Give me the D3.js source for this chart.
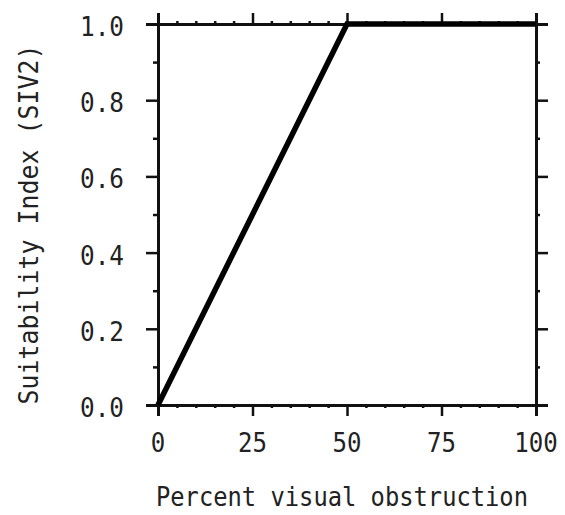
<!DOCTYPE html>
<html>
<head>
<meta charset="utf-8">
<script src="https://cdn.jsdelivr.net/npm/d3@7"></script>
<style>
  body { margin: 0; background: #fff; }
  text { font-family: "DejaVu Sans Mono", "Liberation Mono", monospace; fill: #222; }
</style>
</head>
<body>
<div id="graphic"></div>
<script>
// Data
const obstruction = [0, 50, 100];
const suitability = [0, 1, 1];
const xTicks = [0, 25, 50, 75, 100];
const yTicks = [0, 0.2, 0.4, 0.6, 0.8, 1.0];
const xLabel = "Percent visual obstruction";
const yLabel = "Suitability Index (SIV2)";

const margin = { top: 24, right: 29, bottom: 110, left: 158 };
const width = 565 - margin.left - margin.right;
const height = 515 - margin.top - margin.bottom;

const svg = d3.select("#graphic")
  .append("svg")
  .attr("width", 565)
  .attr("height", 515)
  .append("g")
  .attr("transform", `translate(${margin.left},${margin.top})`);

const x = d3.scaleLinear().domain([0, 100]).range([0, width]);
const y = d3.scaleLinear().domain([0, 1]).range([height, 0]);

// minor ticks every 5 % and every 0.1
const xMinor = d3.range(0, 101, 5).filter(v => v % 25 !== 0);
const yMinor = d3.range(1, 10, 2).map(v => v / 10);

// axis helper: major + minor ticks, no labels
function frame(g, axis, scale, majors, minors, big, small) {
  g.call(axis(scale).tickValues(majors).tickSize(big).tickFormat(""));
  g.append("g").call(axis(scale).tickValues(minors).tickSize(small).tickFormat(""))
    .select(".domain").remove();
  g.selectAll("path, line").attr("stroke", "#111").attr("stroke-width", 2.5);
  g.selectAll(".domain").attr("stroke-width", 3);
}

svg.append("g").attr("transform", `translate(0,${height})`)
  .call(g => frame(g, d3.axisBottom, x, xTicks, xMinor, 11, 3));
svg.append("g")
  .call(g => frame(g, d3.axisTop, x, xTicks, xMinor, 11, 3));
svg.append("g")
  .call(g => frame(g, d3.axisLeft, y, yTicks, yMinor, 12, 5));
svg.append("g").attr("transform", `translate(${width},0)`)
  .call(g => frame(g, d3.axisRight, y, yTicks, yMinor, 12, 4));

// tick labels
svg.append("g").selectAll("text")
  .data(xTicks)
  .join("text")
  .attr("x", d => x(d))
  .attr("y", height + 47)
  .attr("text-anchor", "middle")
  .attr("font-size", 27)
  .attr("textLength", d => String(d).length * 14.5)
  .attr("lengthAdjust", "spacingAndGlyphs")
  .text(d => d);

svg.append("g").selectAll("text")
  .data(yTicks)
  .join("text")
  .attr("x", -34)
  .attr("y", d => y(d) + 12)
  .attr("text-anchor", "end")
  .attr("font-size", 27)
  .attr("textLength", 44)
  .attr("lengthAdjust", "spacingAndGlyphs")
  .text(d => d3.format(".1f")(d));

// axis titles
svg.append("text")
  .attr("x", -2)
  .attr("y", height + 101)
  .attr("font-size", 26)
  .attr("textLength", 372)
  .attr("lengthAdjust", "spacingAndGlyphs")
  .text(xLabel);

svg.append("text")
  .attr("transform", `translate(${-120},${height / 2 + 10}) rotate(-90)`)
  .attr("text-anchor", "middle")
  .attr("font-size", 26)
  .attr("textLength", 360)
  .attr("lengthAdjust", "spacingAndGlyphs")
  .text(yLabel);

// suitability curve
svg.append("path")
  .datum(obstruction.map((v, i) => [v, suitability[i]]))
  .attr("fill", "none")
  .attr("stroke", "#000")
  .attr("stroke-width", 5.5)
  .attr("d", d3.line().x(d => x(d[0])).y(d => y(d[1])));
</script>
</body>
</html>
